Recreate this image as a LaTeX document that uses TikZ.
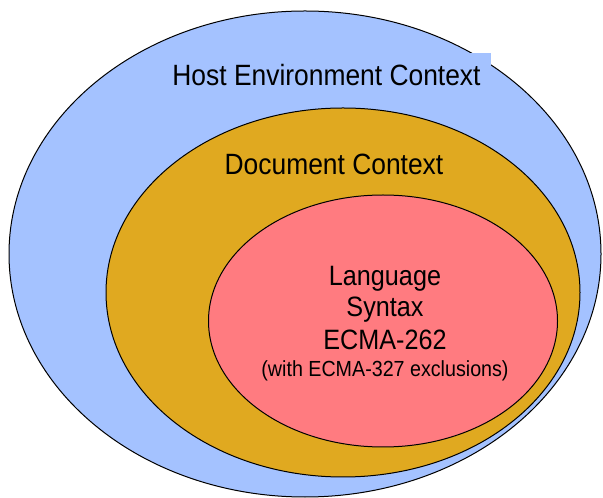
\documentclass[tikz,border=0pt]{standalone}
\usepackage{fontspec}
\setmainfont{Liberation Sans}[FakeStretch=0.9]
\usepackage{tikz}

\definecolor{hostblue}{RGB}{164,194,255}
\definecolor{docgold}{RGB}{224,169,32}
\definecolor{langpink}{RGB}{255,123,128}

\begin{document}
\begin{tikzpicture}[x=0.75pt,y=0.75pt,yscale=-1,xscale=1,
  ring/.style={draw=black,line width=0.75pt},
  lbl/.style={anchor=base,inner sep=0.75pt}]
%set diagram at 603 x 498
\useasboundingbox (0,0) rectangle (603,498);

%Shape: Ellipse [id:host]
\draw[ring,fill=hostblue] (305,254) ellipse [x radius=296, y radius=243];
%Shape: Ellipse [id:document]
\draw[ring,fill=docgold] (343,292.5) ellipse [x radius=237, y radius=184.5];
%Shape: Ellipse [id:language]
\draw[ring,fill=langpink] (383,321) ellipse [x radius=174.5, y radius=126];

% Text Node
\node[lbl,fill=hostblue,inner xsep=7.5pt,inner ysep=9pt,text height=16pt,text depth=4pt,font=\fontsize{22}{26}\selectfont] (hostlbl) at (326.5,86) {Host Environment Context};
% Text Node
\node[lbl,font=\fontsize{22}{26}\selectfont] (doclbl) at (334,175) {Document Context};
% Text Node
\node[lbl,font=\fontsize{21}{25}\selectfont] (langlbl) at (385,286) {Language};
% Text Node
\node[lbl,font=\fontsize{21}{25}\selectfont] (synlbl) at (385,317) {Syntax};
% Text Node
\node[lbl,font=\fontsize{21}{25}\selectfont] (ecmalbl) at (385,350) {ECMA-262};
% Text Node
\node[lbl,font=\fontsize{16.4}{20}\selectfont] (notelbl) at (385,377) {(with ECMA-327 exclusions)};

\end{tikzpicture}
\end{document}
